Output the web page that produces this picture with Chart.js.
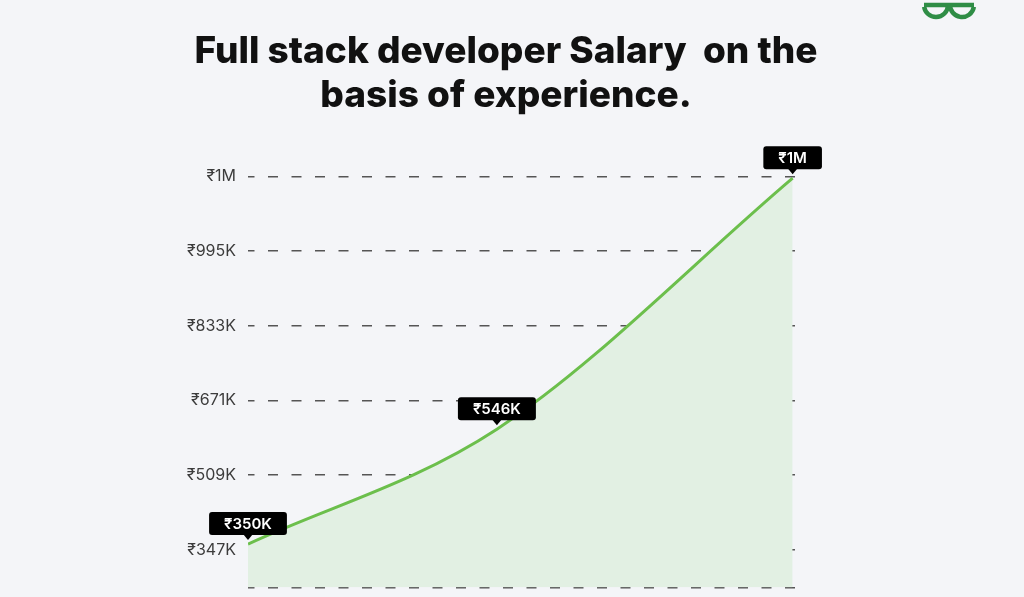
<!DOCTYPE html>
<html>
<head>
<meta charset="utf-8">
<script src="https://cdn.jsdelivr.net/npm/chart.js@4"></script>
<style>
  html, body { margin: 0; background: #f4f5f8; }
  #wrap { width: 1024px; height: 597px; position: relative; }
</style>
</head>
<body>
<div id="wrap"><canvas id="chart"></canvas></div>
<script>
// experience (years, as placed on the picture) and salary in thousands of rupees
var years = [0, 4.57, 10];
var salary = [360, 609, 1153];
var pointLabels = ['₹350K', '₹546K', '₹1M'];
var yTicks = [266, 347, 509, 671, 833, 995, 1157];
var yTickLabels = ['', '₹347K', '₹509K', '₹671K', '₹833K', '₹995K', '₹1M'];

// black value boxes over each point
var valueBoxes = {
  id: 'valueBoxes',
  afterDatasetsDraw: function(chart) {
    var ctx = chart.ctx;
    var meta = chart.getDatasetMeta(0);
    ctx.save();
    ctx.font = '600 15px Inter, "DejaVu Sans", sans-serif';
    meta.data.forEach(function(pt, i) {
      var txt = pointLabels[i];
      var w = ctx.measureText(txt).width + 30;
      var h = 23;
      var bottom = pt.y - 9;
      var left = pt.x - w / 2;
      ctx.fillStyle = '#000';
      ctx.beginPath();
      ctx.roundRect(left, bottom - h, w, h, 3);
      ctx.fill();
      ctx.beginPath();
      ctx.moveTo(pt.x - 5, bottom - 1);
      ctx.lineTo(pt.x + 5, bottom - 1);
      ctx.lineTo(pt.x, bottom + 5);
      ctx.closePath();
      ctx.fill();
      ctx.fillStyle = '#fff';
      ctx.textAlign = 'center';
      ctx.textBaseline = 'middle';
      ctx.fillText(txt, pt.x, bottom - h / 2 + 1);
    });
    ctx.restore();
  }
};

// small logo in the top right corner
var logo = {
  id: 'logo',
  afterDraw: function(chart) {
    var ctx = chart.ctx;
    ctx.save();
    ctx.strokeStyle = '#2f8d46';
    ctx.lineWidth = 4.5;
    ctx.beginPath();
    ctx.moveTo(924, 5);
    ctx.lineTo(974, 5);
    ctx.stroke();
    ctx.beginPath();
    ctx.arc(936, 5, 12, 0, Math.PI * 0.95);
    ctx.stroke();
    ctx.beginPath();
    ctx.arc(962, 5, 12, Math.PI * 0.05, Math.PI);
    ctx.stroke();
    ctx.restore();
  }
};

new Chart('chart', {
  type: 'line',
  data: {
    datasets: [{
      data: years.map(function(x, i) { return { x: x, y: salary[i] }; }),
      borderColor: '#6cbf4c',
      borderWidth: 3,
      backgroundColor: '#e2f0e3',
      fill: 'start',
      cubicInterpolationMode: 'monotone',
      pointRadius: 0
    }]
  },
  options: {
    responsive: true,
    maintainAspectRatio: false,
    animation: false,
    layout: { padding: { left: 0, right: 12, top: 0, bottom: 0 } },
    plugins: {
      legend: { display: false },
      tooltip: { enabled: false },
      title: {
        display: true,
        text: ['Full stack developer Salary  on the', 'basis of experience.'],
        color: '#111',
        font: { family: 'Inter, "Open Sans", sans-serif', size: 37, weight: 800, lineHeight: 1.18 },
        padding: { top: 30, bottom: 59 }
      }
    },
    scales: {
      x: { type: 'linear', min: 0, max: 10.08, display: false },
      y: {
        min: 266,
        max: 1157,
        afterBuildTicks: function(s) {
          s.ticks = yTicks.map(function(v) { return { value: v }; });
        },
        afterFit: function(s) { s.width = 248; },
        ticks: {
          padding: 0,
          color: '#3c3c3c',
          font: { family: 'Inter, "Open Sans", sans-serif', size: 16 },
          callback: function(v) { return yTickLabels[yTicks.indexOf(v)]; }
        },
        grid: { color: '#555', lineWidth: 1.6, drawTicks: true, tickLength: 12, tickColor: 'rgba(0,0,0,0)' },
        border: { display: false, dash: [10, 13.5], dashOffset: 3.5 }
      },
      y2: {
        position: 'right',
        display: true,
        afterFit: function(s) { s.width = 215; },
        ticks: { display: false },
        grid: { display: false },
        border: { display: false }
      }
    }
  },
  plugins: [valueBoxes, logo]
});
</script>
</body>
</html>
